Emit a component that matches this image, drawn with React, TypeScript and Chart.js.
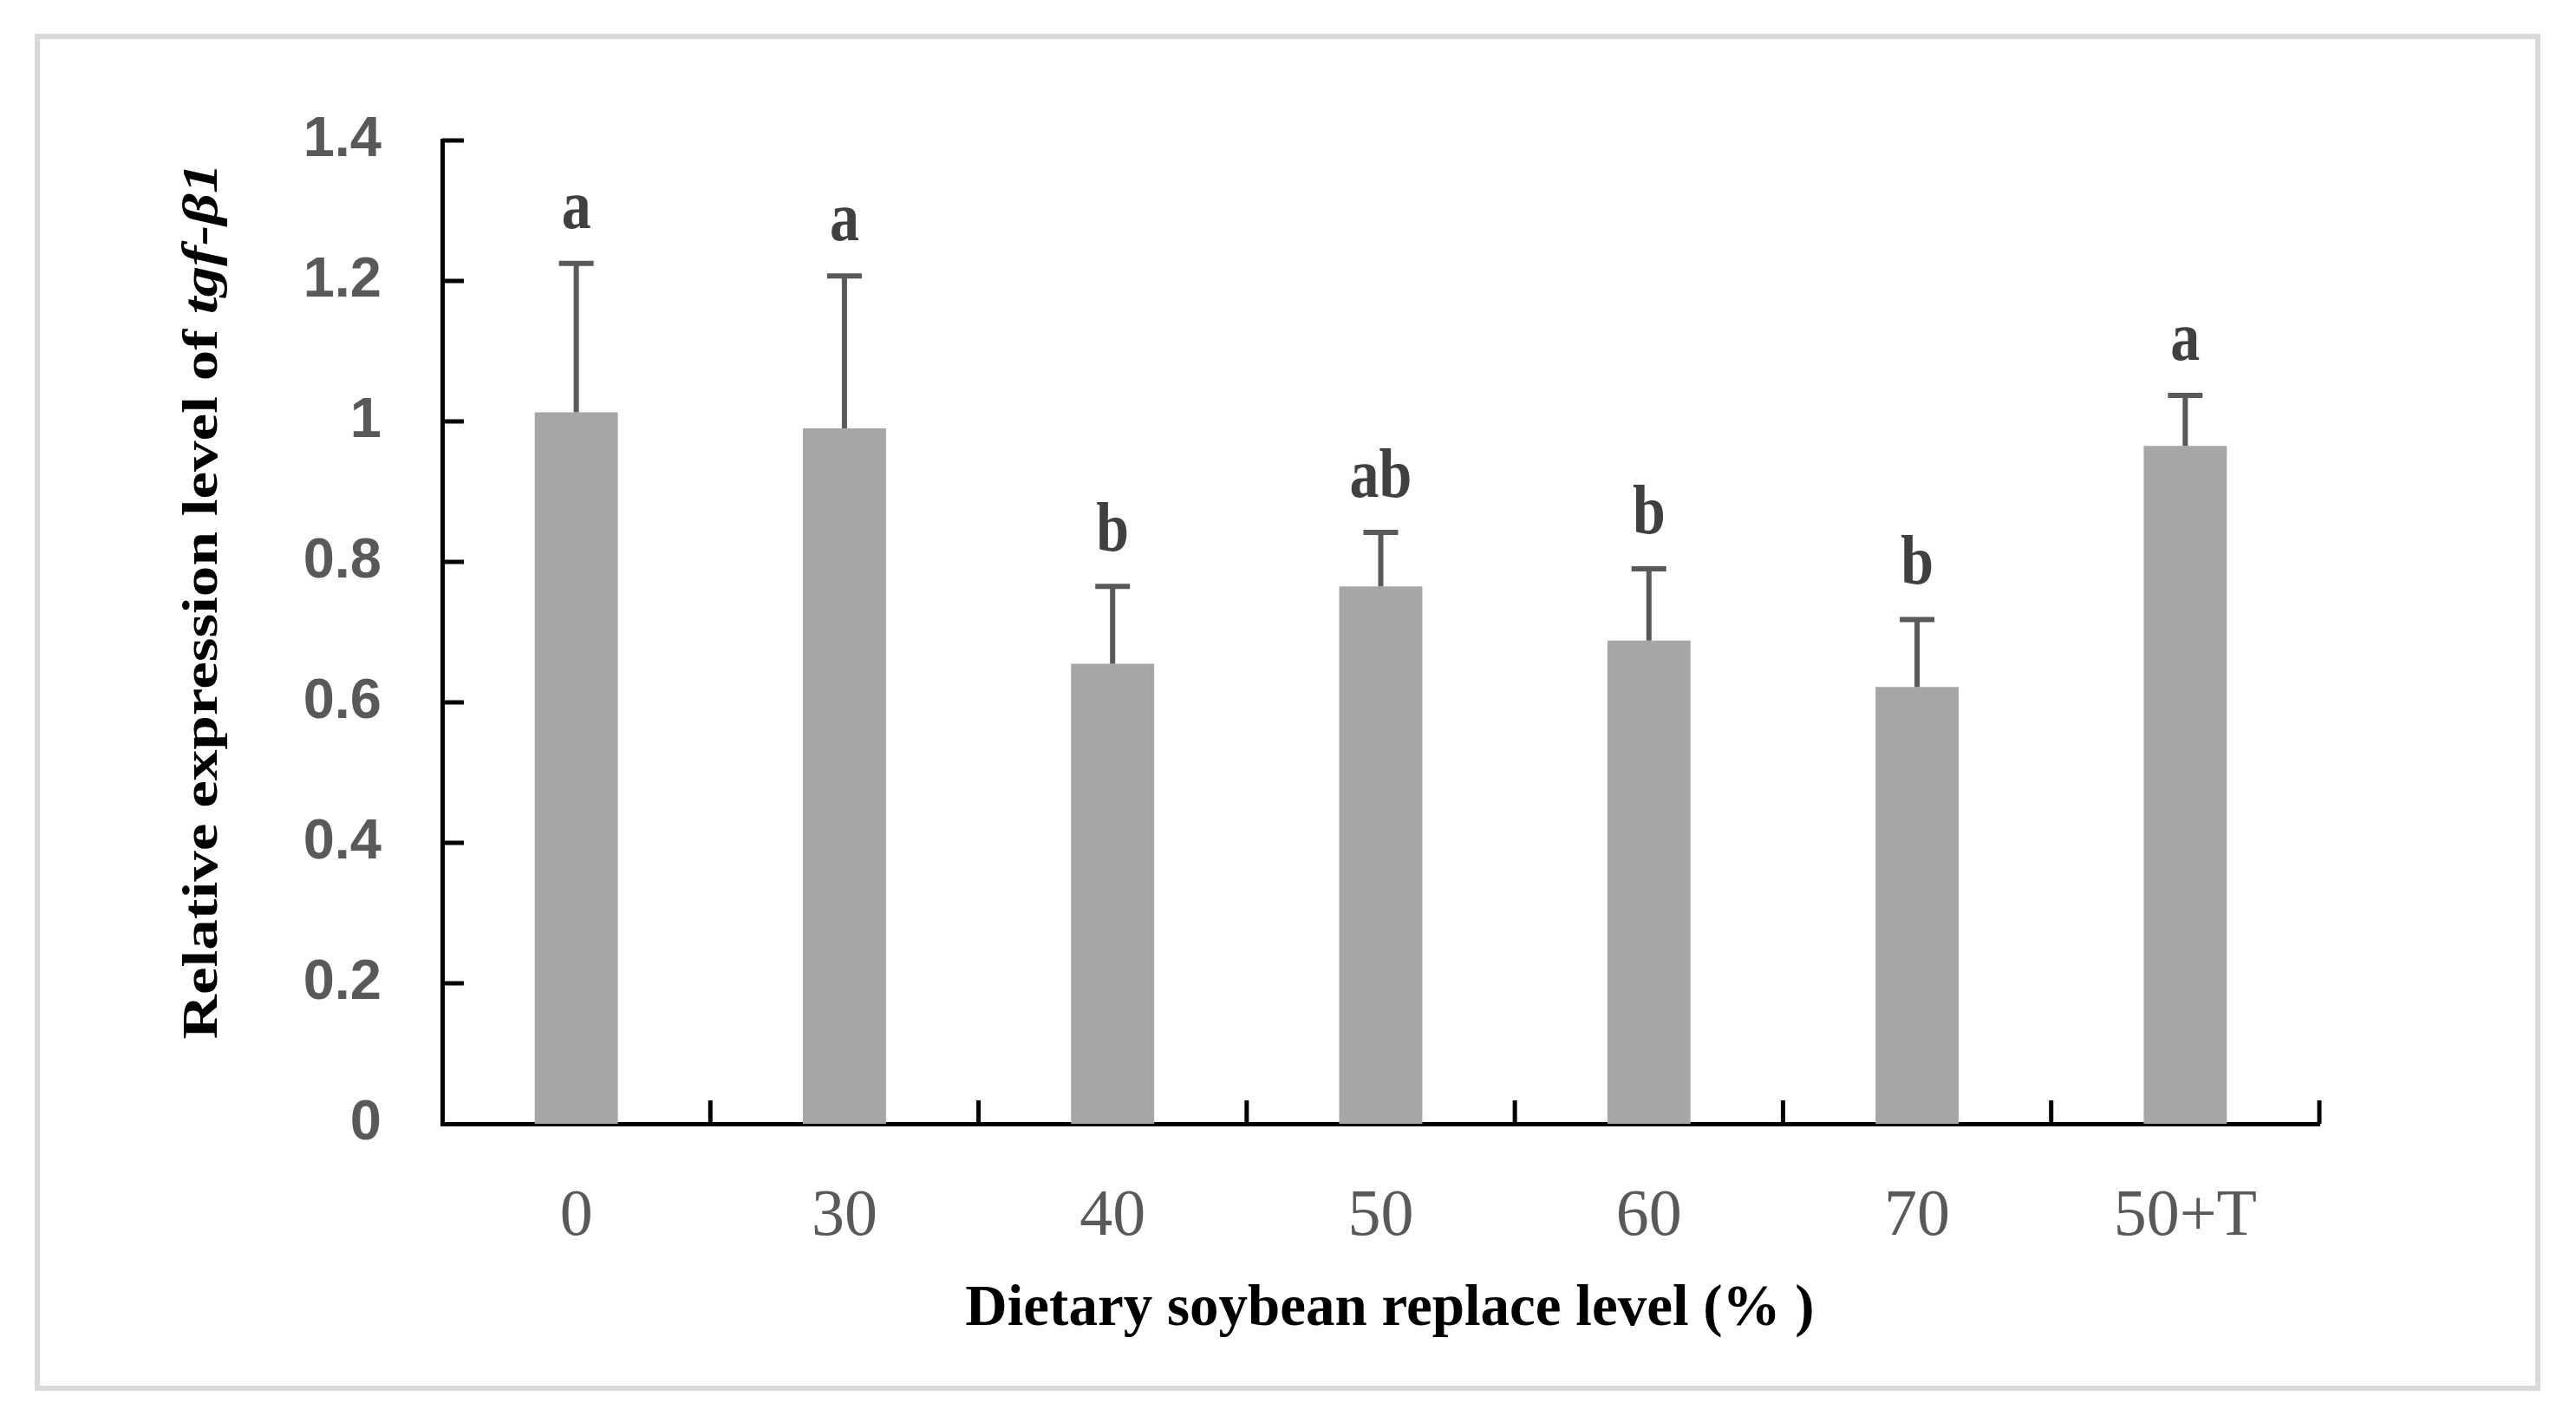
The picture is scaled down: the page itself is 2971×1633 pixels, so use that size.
import React, { useEffect, useRef } from 'react';
import { Chart, registerables } from 'chart.js';

Chart.register(...registerables);

const categories: string[] = ['0', '30', '40', '50', '60', '70', '50+T'];
const means: number[] = [1.013, 0.99, 0.655, 0.765, 0.688, 0.622, 0.965];
const errors: number[] = [0.212, 0.217, 0.11, 0.077, 0.102, 0.096, 0.072];
const letters: string[] = ['a', 'a', 'b', 'ab', 'b', 'b', 'a'];
const yTickValues: number[] = [0.2, 0.4, 0.6, 0.8, 1.0, 1.2, 1.4];

const xTitle = 'Dietary soybean replace level (% )';
const yTitlePlain = 'Relative expression level of ';
const yTitleItalic = 'tgf-β1';

const W = 2971;
const H = 1633;

export default function App() {
  const ref = useRef<HTMLCanvasElement>(null);

  useEffect(() => {
    document.body.style.margin = '0';
    document.body.style.overflow = 'hidden';
    const canvas = ref.current;
    if (!canvas) return;

    const framePlugin = {
      id: 'frame',
      beforeDraw(chart: any) {
        const ctx = chart.ctx;
        ctx.save();
        ctx.fillStyle = '#ffffff';
        ctx.fillRect(0, 0, chart.width, chart.height);
        ctx.strokeStyle = '#d9d9d9';
        ctx.lineWidth = 6;
        ctx.strokeRect(43, 42, 2884, 1559);
        ctx.restore();
      },
    };

    const errorPlugin = {
      id: 'errbars',
      afterDatasetsDraw(chart: any) {
        const ctx = chart.ctx;
        const xs = chart.scales.x;
        const ys = chart.scales.y;
        ctx.save();
        ctx.strokeStyle = '#595959';
        ctx.lineWidth = 6;
        ctx.lineCap = 'butt';
        means.forEach((m, i) => {
          const x = xs.getPixelForValue(i);
          const y0 = ys.getPixelForValue(m);
          const y1 = ys.getPixelForValue(m + errors[i]);
          ctx.beginPath();
          ctx.moveTo(x, y0);
          ctx.lineTo(x, y1);
          ctx.moveTo(x - 20, y1);
          ctx.lineTo(x + 20, y1);
          ctx.stroke();
        });
        // significance letters
        ctx.fillStyle = '#404040';
        ctx.font = 'bold 68px "Liberation Serif", "Times New Roman", serif';
        ctx.textAlign = 'center';
        ctx.textBaseline = 'alphabetic';
        letters.forEach((l, i) => {
          const x = xs.getPixelForValue(i);
          const y1 = ys.getPixelForValue(means[i] + errors[i]);
          ctx.save();
          ctx.translate(x, y1 - 41);
          ctx.scale(1, 1.17);
          ctx.fillText(l, 0, 0);
          ctx.restore();
        });
        ctx.restore();
      },
    };

    const axesPlugin = {
      id: 'innerTicksTitles',
      afterDraw(chart: any) {
        const ctx = chart.ctx;
        const xs = chart.scales.x;
        const ys = chart.scales.y;
        const area = chart.chartArea;
        ctx.save();
        ctx.strokeStyle = '#000000';
        ctx.lineWidth = 5;
        ctx.beginPath();
        yTickValues.forEach((v) => {
          const y = ys.getPixelForValue(v);
          ctx.moveTo(area.left, y);
          ctx.lineTo(area.left + 25, y);
        });
        const step = (xs.right - xs.left) / categories.length;
        for (let i = 1; i <= categories.length; i++) {
          const x = xs.left + i * step;
          ctx.moveTo(x, area.bottom);
          ctx.lineTo(x, area.bottom - 27);
        }
        ctx.stroke();

        // x title
        ctx.fillStyle = '#000000';
        ctx.font = 'bold 67px "Liberation Serif", "Times New Roman", serif';
        ctx.textAlign = 'center';
        ctx.textBaseline = 'alphabetic';
        ctx.fillText(xTitle, 1603, 1528);

        // y title (rotated, mixed italic)
        const plainFont = 'bold 56px "Liberation Serif", "Times New Roman", serif';
        const italFont = 'italic bold 56px "Liberation Serif", "Times New Roman", serif';
        ctx.font = plainFont;
        const w1 = ctx.measureText(yTitlePlain).width;
        ctx.font = italFont;
        const w2 = ctx.measureText(yTitleItalic).width;
        const total = w1 + w2;
        ctx.save();
        ctx.translate(250, 693);
        ctx.rotate(-Math.PI / 2);
        ctx.scale(1.27, 1);
        ctx.textAlign = 'left';
        ctx.font = plainFont;
        ctx.fillText(yTitlePlain, -total / 2, 0);
        ctx.font = italFont;
        ctx.fillText(yTitleItalic, -total / 2 + w1, 0);
        ctx.restore();
        ctx.restore();
      },
    };

    const chart = new Chart(canvas, {
      type: 'bar',
      data: {
        labels: categories,
        datasets: [
          {
            data: means,
            backgroundColor: '#a6a6a6',
            borderWidth: 0,
            categoryPercentage: 1.0,
            barPercentage: 0.31,
          },
        ],
      },
      options: {
        responsive: false,
        animation: false,
        devicePixelRatio: 1,
        layout: { padding: { left: 0, top: 162, right: 296, bottom: 0 } },
        plugins: {
          legend: { display: false },
          tooltip: { enabled: false },
          title: { display: false },
        },
        scales: {
          x: {
            type: 'category',
            offset: true,
            grid: { display: false, drawTicks: false },
            border: { display: true, color: '#000000', width: 5 },
            ticks: {
              color: '#595959',
              padding: 62,
              font: { family: '"Liberation Serif", "Times New Roman", serif', size: 76 },
            },
            afterFit: (scale: any) => {
              scale.height = H - 1296;
            },
          },
          y: {
            type: 'linear',
            min: 0,
            max: 1.4,
            grid: { display: false, drawTicks: false },
            border: { display: true, color: '#000000', width: 5 },
            ticks: {
              stepSize: 0.2,
              color: '#595959',
              padding: 70,
              font: { family: '"Liberation Sans", Arial, sans-serif', size: 65, weight: 'bold' },
              callback: (v: any) => String(Number(Number(v).toFixed(1))),
            },
            afterFit: (scale: any) => {
              scale.width = 510;
            },
          },
        },
      },
      plugins: [framePlugin, errorPlugin, axesPlugin],
    });

    return () => {
      chart.destroy();
    };
  }, []);

  return <canvas ref={ref} width={W} height={H} style={{ display: 'block' }} />;
}
